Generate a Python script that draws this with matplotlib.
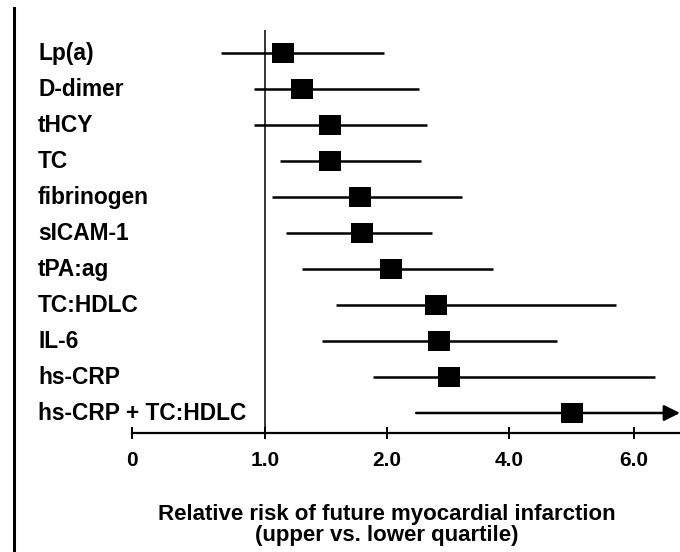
import numpy as np
import matplotlib
matplotlib.use('Agg')
import matplotlib.pyplot as plt
import matplotlib.transforms as mtransforms
from matplotlib.lines import Line2D

# ─────────────────────────────────────────────────────────────
# Data (relative risk, upper vs. lower quartile)
# ─────────────────────────────────────────────────────────────
markers = ['Lp(a)', 'D-dimer', 'tHCY', 'TC', 'fibrinogen', 'sICAM-1',
           'tPA:ag', 'TC:HDLC', 'IL-6', 'hs-CRP', 'hs-CRP + TC:HDLC']
rr = [1.15, 1.30, 1.53, 1.53, 1.78, 1.80, 2.07, 2.80, 2.85, 3.02, 5.01]
ci_lo = [0.67, 0.92, 0.92, 1.12, 1.06, 1.17, 1.30, 1.58, 1.47, 1.89, 2.48]
ci_hi = [1.98, 2.52, 2.66, 2.56, 3.23, 2.74, 3.74, 5.71, 4.77, 6.34, 6.74]
open_ended = [False] * 10 + [True]   # last CI runs off the chart -> arrow

tick_vals = [0, 1, 2, 4, 6]
tick_labels = ['0', '1.0', '2.0', '4.0', '6.0']

# the printed axis is not linear: labels sit at equal-ish spacing
KNOT_VALS = np.array([0, 1, 2, 4, 6, 8], dtype=float)
KNOT_POS = np.array([0, 133, 255, 377, 502, 627], dtype=float)


def fwd(v):
    return np.interp(v, KNOT_VALS, KNOT_POS)


def inv(p):
    return np.interp(p, KNOT_POS, KNOT_VALS)


plt.rcParams['font.family'] = ['Liberation Sans', 'DejaVu Sans']

fig = plt.figure(figsize=(6.8, 5.52), dpi=100)
W, H = 680, 552
# axes: left at the "0" tick, bottom spine is the x axis, top at ref-line top
ax = fig.add_axes([132 / W, (H - 433) / H, 1 - 132 / W, (433 - 30) / H])
ax.set_xscale('function', functions=(fwd, inv))
ax.set_xlim(0, 6.74)
ypos = np.arange(len(markers))
ax.set_ylim((433 - 53) / 36, (30 - 53) / 36)

for sp in ['top', 'right', 'left']:
    ax.spines[sp].set_visible(False)
ax.spines['bottom'].set_linewidth(1.6)
ax.set_yticks([])
ax.set_xticks(tick_vals)
ax.set_xticklabels(tick_labels, fontsize=15, fontweight='bold')
ax.tick_params(axis='x', direction='inout', length=8, width=1.4, pad=9)
ax.minorticks_off()

# reference line at RR = 1
ax.axvline(1.0, color='black', lw=1.1)

rect = [(-1.1, -0.95), (1.1, -0.95), (1.1, 0.95), (-1.1, 0.95), (-1.1, -0.95)]
for i in range(len(markers)):
    if open_ended[i]:
        ax.annotate('', xy=(ci_hi[i], ypos[i]), xytext=(ci_lo[i], ypos[i]),
                    arrowprops=dict(arrowstyle='-|>', lw=1.8, color='black',
                                    mutation_scale=24, shrinkA=0, shrinkB=0),
                    annotation_clip=False)
    else:
        ax.plot([ci_lo[i], ci_hi[i]], [ypos[i], ypos[i]], color='black',
                lw=1.8, solid_capstyle='butt')
    ax.plot(rr[i], ypos[i], marker=rect, markersize=16, color='black',
            markeredgewidth=0, linestyle='none')

trans = mtransforms.blended_transform_factory(fig.transFigure, ax.transData)
for i, name in enumerate(markers):
    ax.text(38 / W, ypos[i], name, transform=trans, ha='left', va='center',
            fontsize=16.4, fontweight='bold')

fig.text(387 / W, 1 - 525 / H,
         'Relative risk of future myocardial infarction\n(upper vs. lower quartile)',
         ha='center', va='center', fontsize=16, fontweight='bold',
         linespacing=1.0)

# page edge at the left of the scan
fig.add_artist(Line2D([14 / W, 14 / W], [0, 1 - 8 / H], color='black', lw=2.2))

fig.savefig('out.png', dpi=100)
